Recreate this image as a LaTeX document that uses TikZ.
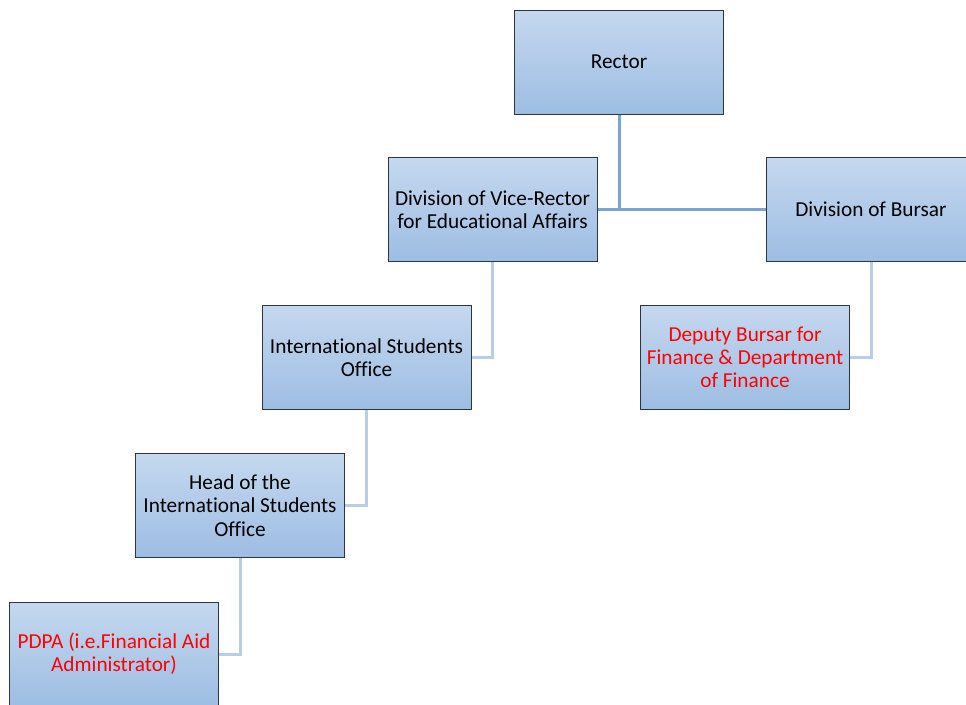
\documentclass[tikz,border=0pt]{standalone}
\usepackage{fontspec}
\setmainfont[Ligatures={NoCommon}]{Carlito}
\definecolor{boxtop}{HTML}{C5D8EF}
\definecolor{boxbot}{HTML}{9DBDE3}
\definecolor{boxedge}{HTML}{2E3440}
\definecolor{linkmain}{HTML}{7BA4D6}
\definecolor{linksub}{HTML}{B9CDE7}
\definecolor{redtext}{HTML}{FF0000}
\tikzset{
  orgbox/.style={rectangle, draw=boxedge, line width=1pt, top color=boxtop, bottom color=boxbot,
    minimum width=209pt, minimum height=104pt, align=center, inner sep=2pt,
    font=\fontsize{21.3}{23.2}\selectfont, text=black},
  redbox/.style={orgbox, text=redtext},
  mainlink/.style={draw=linkmain, line width=3pt},
  sublink/.style={draw=linksub, line width=3pt},
}
\begin{document}
\begin{tikzpicture}[x=1pt,y=-1pt]
\useasboundingbox (0,0) rectangle (966,704);
\clip (0,0) rectangle (966,704);
\node[orgbox] (rector) at (619,62) {Rector};
\node[orgbox] (vice) at (492.5,209.5) {Division of Vice-Rector\\for Educational Affairs};
\node[orgbox] (bursar) at (871,209.5) {Division of Bursar};
\node[orgbox] (iso) at (366.5,357.5) {International Students\\Office};
\node[redbox] (deputy) at (745,357.5) {Deputy Bursar for\\Finance \& Department\\of Finance};
\node[orgbox] (head) at (240,505.5) {Head of the\\International Students\\Office};
\node[redbox] (pdpa) at (114,654) {PDPA (i.e.Financial Aid\\Administrator)};
\draw[mainlink] (rector.south) -- (rector.south |- vice.east);
\draw[mainlink] (vice.east) -- (bursar.west);
\draw[sublink] (vice.south) |- (iso.east);
\draw[sublink] (bursar.south) |- (deputy.east);
\draw[sublink] (iso.south) |- (head.east);
\draw[sublink] (head.south) |- (pdpa.east);
\end{tikzpicture}
\end{document}
